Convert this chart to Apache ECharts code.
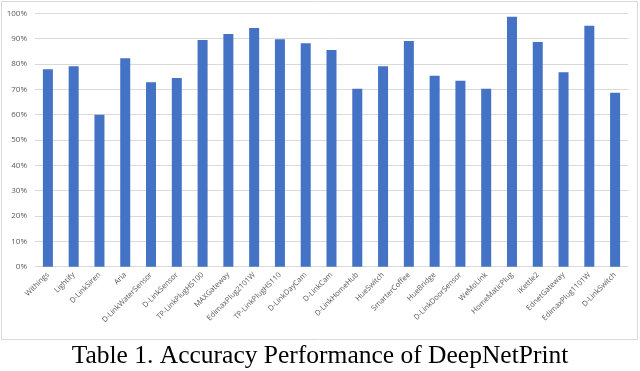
<!DOCTYPE html>
<html>
<head>
<meta charset="utf-8">
<script src="https://cdn.jsdelivr.net/npm/echarts@6/dist/echarts.min.js"></script>
<style>
  html, body { margin: 0; padding: 0; background: #fff; }
  #main { width: 640px; height: 371px; }
</style>
</head>
<body>
<div id="main"></div>
<script>
var devices = ["Withings", "Lightify", "D-LinkSiren", "Aria", "D-LinkWaterSensor", "D-LinkSensor",
  "TP-LinkPlugHS100", "MAXGateway", "EdimaxPlug2101W", "TP-LinkPlugHS110", "D-LinkDayCam",
  "D-LinkCam", "D-LinkHomeHub", "HueSwitch", "SmarterCoffee", "HueBridge", "D-LinkDoorSensor",
  "WeMoLink", "HomeMaticPlug", "iKettle2", "EdnetGateway", "EdimaxPlug1101W", "D-LinkSwitch"];
var accuracy = [77.9, 79.1, 60.0, 82.3, 72.8, 74.5, 89.5, 91.8, 94.2, 89.8, 88.2,
  85.5, 70.2, 79.1, 89.1, 75.4, 73.4, 70.2, 98.6, 88.7, 76.7, 95.1, 68.6];
var yTicks = [0, 10, 20, 30, 40, 50, 60, 70, 80, 90, 100];
var caption = "Table 1. Accuracy Performance of DeepNetPrint";

var myChart = echarts.init(document.getElementById('main'));
var option = {
  animation: false,
  grid: { left: 35, right: 12, top: 13.3, bottom: 104.3, containLabel: false },
  graphic: [
    {
      type: 'rect',
      shape: { x: 1.5, y: 1.5, width: 636, height: 338 },
      style: { fill: 'none', stroke: '#d9d9d9', lineWidth: 1 }
    },
    {
      type: 'text',
      x: 320, y: 356,
      style: {
        text: caption, fill: '#000', font: '25.5px "Liberation Serif", serif',
        textAlign: 'center', textVerticalAlign: 'middle'
      }
    }
  ],
  xAxis: {
    type: 'category',
    data: devices,
    axisLine: { lineStyle: { color: '#d9d9d9' } },
    axisTick: { show: false },
    axisLabel: {
      interval: 0, rotate: 45, color: '#595959', fontSize: 7.5,
      fontFamily: 'Open Sans', margin: 7
    }
  },
  yAxis: {
    type: 'value',
    min: yTicks[0], max: yTicks[yTicks.length - 1], interval: 10,
    axisLine: { show: false },
    axisTick: { show: false },
    splitLine: { lineStyle: { color: '#d9d9d9' } },
    axisLabel: {
      color: '#595959', fontSize: 8, fontFamily: 'Open Sans', margin: 8,
      formatter: '{value}%'
    }
  },
  series: [
    {
      type: 'bar',
      data: accuracy,
      barWidth: 10,
      itemStyle: { color: '#4472c4' }
    }
  ]
};
myChart.setOption(option);
</script>
</body>
</html>
